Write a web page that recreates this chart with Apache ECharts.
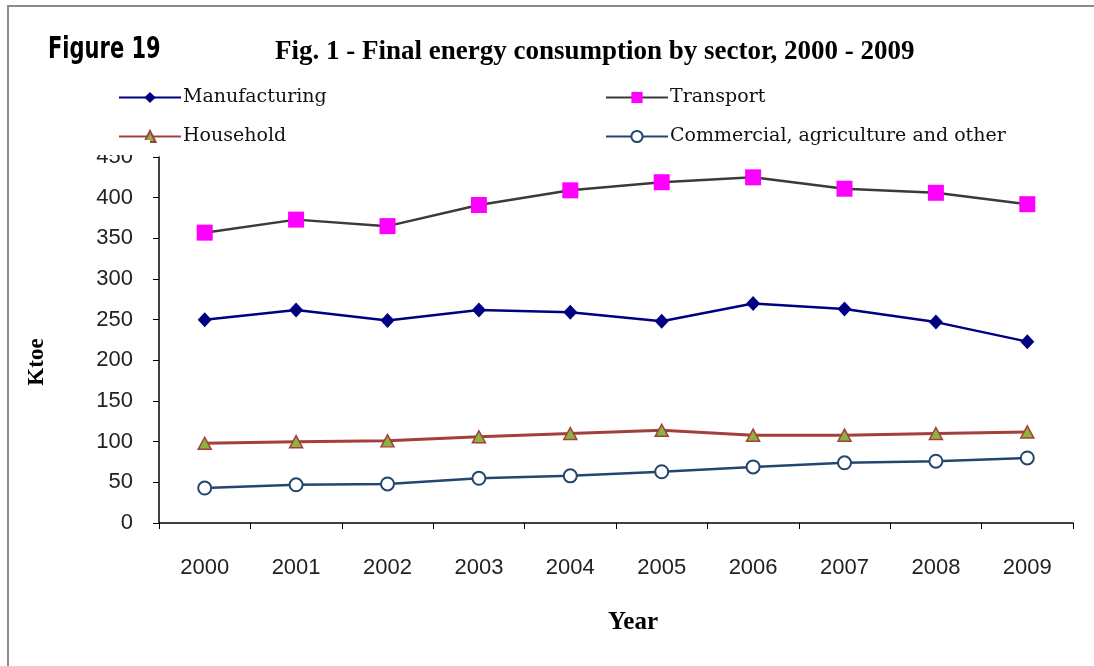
<!DOCTYPE html>
<html>
<head>
<meta charset="utf-8">
<script src="https://cdn.jsdelivr.net/npm/echarts@6/dist/echarts.min.js"></script>
<style>
  html, body { margin: 0; padding: 0; background: #fff; }
  #main { width: 1094px; height: 666px; }
</style>
</head>
<body>
<div id="main"></div>
<script>
// data
var years = ['2000', '2001', '2002', '2003', '2004', '2005', '2006', '2007', '2008', '2009'];
var manufacturing = [250, 262, 249, 262, 259, 248, 270, 263, 247, 223];
var transport = [357, 373, 365, 391, 409, 419, 425, 411, 406, 392];
var household = [98, 100, 101, 106, 110, 114, 108, 108, 110, 112];
var commercial = [43, 47, 48, 55, 58, 63, 69, 74, 76, 80];
var yTicks = [0, 50, 100, 150, 200, 250, 300, 350, 400, 450];

var serif = '"Liberation Serif", "Times New Roman", serif';
var sans = '"Liberation Sans", Arial, sans-serif';

function legendAt(name, left, top) {
  return {
    data: [name],
    left: left,
    top: top,
    padding: 0,
    itemWidth: 62,
    itemHeight: 14,
    itemGap: 0,
    textStyle: { fontFamily: '"DejaVu Serif", serif', fontSize: 19, color: '#111', padding: [0, 0, 0, -3] }
  };
}

var option = {
  backgroundColor: '#fff',
  animation: false,
  title: {
    text: 'Fig. 1 - Final energy consumption by sector, 2000 - 2009',
    left: 270,
    top: 34,
    textStyle: { fontFamily: serif, fontWeight: 'bold', fontSize: 27, color: '#000' }
  },
  graphic: [
    { type: 'polyline', shape: { points: [[8, 666], [8, 6], [1094, 6]] }, style: { stroke: '#8c8c8c', lineWidth: 2, fill: null } },
    { type: 'text', x: 48, y: 35, scaleX: 0.7, style: { text: 'Figure 19', font: 'bold 30px "DejaVu Sans", sans-serif', fill: '#000' } },
    // the legend box hides the top of the 450 label in the original
    { type: 'rect', z: 100, shape: { x: 80, y: 140, width: 70, height: 15 }, style: { fill: '#fff' } }
  ],
  legend: [
    legendAt('Manufacturing', 118, 88),
    legendAt('Transport', 605, 88),
    legendAt('Household', 118, 127),
    legendAt('Commercial, agriculture and other', 605, 127)
  ],
  grid: { left: 159, right: 21, top: 157, bottom: 143 },
  xAxis: {
    type: 'category',
    data: years,
    boundaryGap: true,
    name: 'Year',
    nameLocation: 'middle',
    nameGap: 87,
    nameTextStyle: { fontFamily: serif, fontWeight: 'bold', fontSize: 25, color: '#000', padding: [0, 0, 0, 34] },
    axisLine: { lineStyle: { color: '#000', width: 1.5 } },
    axisTick: { show: true, length: 6, lineStyle: { color: '#000' } },
    axisLabel: { margin: 34, fontFamily: sans, fontSize: 22, color: '#222' },
    splitLine: { show: false }
  },
  yAxis: {
    type: 'value',
    min: yTicks[0],
    max: yTicks[yTicks.length - 1],
    interval: yTicks[1] - yTicks[0],
    name: 'Ktoe',
    nameLocation: 'middle',
    nameRotate: 90,
    nameGap: 110,
    nameTextStyle: { fontFamily: serif, fontWeight: 'bold', fontSize: 23, color: '#000', padding: [0, 44, 0, 0] },
    axisLine: { show: true, lineStyle: { color: '#000', width: 1.5 } },
    axisTick: { show: true, length: 6, lineStyle: { color: '#000' } },
    axisLabel: { margin: 26, fontFamily: sans, fontSize: 22, color: '#222' },
    splitLine: { show: false }
  },
  series: [
    {
      name: 'Manufacturing', type: 'line', data: manufacturing,
      symbol: 'diamond', symbolSize: [14, 15],
      lineStyle: { color: '#000080', width: 2.5 },
      itemStyle: { color: '#000080' }
    },
    {
      name: 'Transport', type: 'line', data: transport,
      symbol: 'rect', symbolSize: 16,
      lineStyle: { color: '#3a3a3a', width: 2.5 },
      itemStyle: { color: '#ff00ff', borderWidth: 0 }
    },
    {
      name: 'Household', type: 'line', data: household,
      symbol: 'triangle', symbolSize: [13, 12],
      lineStyle: { color: '#a3403c', width: 3 },
      itemStyle: { color: '#8db33f', borderColor: '#a3403c', borderWidth: 1.5 }
    },
    {
      name: 'Commercial, agriculture and other', type: 'line', data: commercial,
      symbol: 'circle', symbolSize: 13, showAllSymbol: true,
      lineStyle: { color: '#23466f', width: 2.5 },
      itemStyle: { color: '#fff', borderColor: '#23466f', borderWidth: 2 }
    }
  ]
};

var myChart = echarts.init(document.getElementById('main'));
myChart.setOption(option);
</script>
</body>
</html>
